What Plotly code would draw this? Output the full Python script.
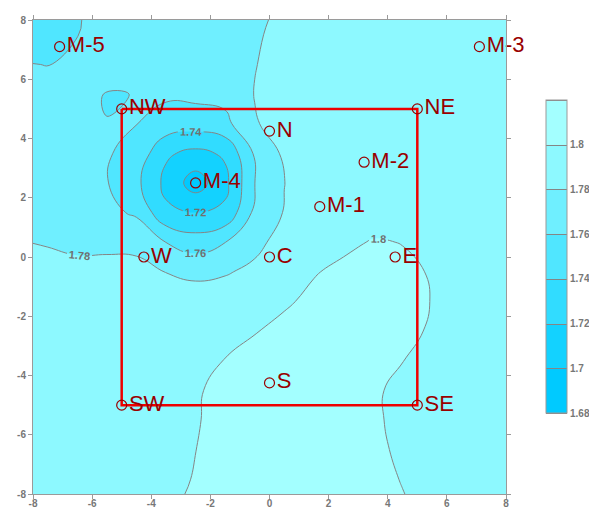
import plotly.graph_objects as go

# Grid node positions (same for x and y), in map units
grid_x = [-8, -7.5, -6.5, -5.5, -4.5, -3.5, -2.5, -1.5, -0.5, 0.5, 1.5, 2.5, 3.5, 4.5, 5.5, 6.5, 7.5, 8]
grid_y = [-8, -7.5, -6.5, -5.5, -4.5, -3.5, -2.5, -1.5, -0.5, 0.5, 1.5, 2.5, 3.5, 4.5, 5.5, 6.5, 7.5, 8]

# Surface values, one row per grid_y node, listed from the top row (y = 8) down
rows_top_down = [
    [1.752, 1.754, 1.7593, 1.764, 1.767, 1.769, 1.771, 1.774, 1.778, 1.7823, 1.786, 1.788, 1.789, 1.790, 1.790, 1.790, 1.790, 1.790],
    [1.7535, 1.7552, 1.7598, 1.7645, 1.767, 1.769, 1.7705, 1.7735, 1.7785, 1.7835, 1.786, 1.788, 1.789, 1.790, 1.790, 1.790, 1.790, 1.790],
    [1.7602, 1.7598, 1.762, 1.7645, 1.766, 1.7665, 1.7675, 1.7705, 1.7795, 1.785, 1.787, 1.788, 1.789, 1.790, 1.790, 1.790, 1.790, 1.790],
    [1.763, 1.7627, 1.7622, 1.7597, 1.7601, 1.763, 1.765, 1.7665, 1.7805, 1.785, 1.787, 1.788, 1.789, 1.790, 1.790, 1.790, 1.790, 1.790],
    [1.764, 1.7637, 1.763, 1.7601, 1.7603, 1.752, 1.7494, 1.7545, 1.7788, 1.786, 1.787, 1.788, 1.789, 1.790, 1.790, 1.790, 1.790, 1.790],
    [1.7655, 1.765, 1.7635, 1.7615, 1.754, 1.7228, 1.7148, 1.7228, 1.7625, 1.7835, 1.7865, 1.788, 1.789, 1.790, 1.790, 1.790, 1.790, 1.790],
    [1.767, 1.7665, 1.765, 1.7609, 1.7446, 1.7148, 1.690, 1.7148, 1.7595, 1.7797, 1.787, 1.788, 1.789, 1.790, 1.790, 1.790, 1.790, 1.790],
    [1.769, 1.7685, 1.767, 1.764, 1.7577, 1.724, 1.720, 1.724, 1.7645, 1.781, 1.787, 1.7885, 1.789, 1.7895, 1.790, 1.790, 1.790, 1.790],
    [1.7799, 1.7795, 1.778, 1.7775, 1.772, 1.7598, 1.7493, 1.7597, 1.7775, 1.7835, 1.7875, 1.795, 1.8015, 1.7995, 1.795, 1.792, 1.791, 1.791],
    [1.7825, 1.7825, 1.7825, 1.7835, 1.789, 1.7797, 1.7775, 1.7792, 1.782, 1.789, 1.7985, 1.805, 1.8055, 1.8035, 1.7988, 1.794, 1.792, 1.792],
    [1.785, 1.785, 1.786, 1.787, 1.789, 1.786, 1.7855, 1.785, 1.7875, 1.797, 1.805, 1.808, 1.808, 1.806, 1.7995, 1.795, 1.793, 1.793],
    [1.787, 1.787, 1.787, 1.7875, 1.789, 1.788, 1.789, 1.794, 1.799, 1.806, 1.809, 1.810, 1.809, 1.8035, 1.7985, 1.795, 1.793, 1.793],
    [1.789, 1.789, 1.789, 1.789, 1.7895, 1.791, 1.795, 1.8005, 1.806, 1.809, 1.810, 1.810, 1.808, 1.8002, 1.7965, 1.795, 1.794, 1.794],
    [1.7905, 1.7905, 1.7905, 1.791, 1.792, 1.7945, 1.7985, 1.804, 1.807, 1.8085, 1.809, 1.808, 1.8018, 1.797, 1.795, 1.7945, 1.794, 1.794],
    [1.791, 1.791, 1.791, 1.7915, 1.7925, 1.795, 1.7992, 1.8035, 1.806, 1.807, 1.807, 1.806, 1.8015, 1.7975, 1.7955, 1.795, 1.7945, 1.7945],
    [1.7915, 1.7915, 1.7915, 1.792, 1.793, 1.7955, 1.7999, 1.8035, 1.805, 1.806, 1.806, 1.805, 1.8025, 1.798, 1.7955, 1.795, 1.795, 1.795],
    [1.792, 1.792, 1.792, 1.7925, 1.7935, 1.796, 1.8008, 1.8035, 1.805, 1.8055, 1.8055, 1.805, 1.8035, 1.7995, 1.7965, 1.7955, 1.7955, 1.7955],
    [1.792, 1.792, 1.792, 1.7925, 1.7935, 1.7965, 1.802, 1.8035, 1.805, 1.8055, 1.8055, 1.805, 1.8035, 1.8003, 1.7965, 1.7955, 1.7955, 1.7955],
]

# Contour levels and colour bar labels
level_start, level_end, level_step = 1.68, 1.82, 0.02
bar_tickvals = [1.68, 1.70, 1.72, 1.74, 1.76, 1.78, 1.80]
bar_ticktext = ["1.68", "1.7", "1.72", "1.74", "1.76", "1.78", "1.8"]

# Band colours, darkest (lowest) to lightest (highest)
band_colors = ["#00C8FF", "#00CCFF", "#1BD5FF", "#35DDFF", "#50E6FF",
               "#6BEEFF", "#85F7FF", "#A0FFFF", "#A8FFFF"]

# Stations
station_names = ["M-1", "M-2", "M-3", "M-4", "M-5", "N", "S", "E", "W", "C", "NE", "NW", "SE", "SW"]
station_x = [1.7, 3.2, 7.1, -2.5, -7.1, 0, 0, 4.25, -4.25, 0, 5, -5, 5, -5]
station_y = [1.7, 3.2, 7.1, 2.5, 7.1, 4.25, -4.25, 0, 0, 0, 5, 5, -5, -5]

# Outline joining the corner stations
frame_corners = ["NW", "NE", "SE", "SW", "NW"]

axis_ticks = [-8, -6, -4, -2, 0, 2, 4, 6, 8]

z = rows_top_down[::-1]
n = len(band_colors) - 1
colorscale = [[i / n, c] for i, c in enumerate(band_colors)]

label_font = "Liberation Sans Narrow, Arial Narrow, Liberation Sans, sans-serif"
tick_font = dict(family="Liberation Sans, Arial, sans-serif", size=10, color="#777777", weight="bold")

fig = go.Figure()

fig.add_trace(go.Contour(
    x=grid_x, y=grid_y, z=z,
    zmin=level_start, zmax=level_end,
    autocontour=False,
    contours=dict(start=level_start, end=level_end, size=level_step,
                  coloring="fill", showlabels=True,
                  labelfont=dict(family="Liberation Sans, Arial, sans-serif", size=11,
                                 color="#707070", weight="bold")),
    line=dict(color="#858585", width=1, smoothing=1.3),
    colorscale=colorscale,
    hoverinfo="skip",
    colorbar=dict(
        x=(546 - 33) / 473, xanchor="left", xpad=0,
        y=0.501, yanchor="middle", ypad=0,
        len=313, lenmode="pixels",
        thickness=21, thicknessmode="pixels",
        outlinecolor="#999999", outlinewidth=1,
        tickvals=bar_tickvals, ticktext=bar_ticktext,
        ticks="", tickfont=tick_font,
    ),
))

idx = {name: i for i, name in enumerate(station_names)}
fig.add_trace(go.Scatter(
    x=[station_x[idx[c]] for c in frame_corners],
    y=[station_y[idx[c]] for c in frame_corners],
    mode="lines",
    line=dict(color="#EE0000", width=2.5),
    hoverinfo="skip", showlegend=False,
))

fig.add_trace(go.Scatter(
    x=station_x, y=station_y, text=station_names,
    mode="markers+text", textposition="middle right",
    marker=dict(symbol="circle-open", size=10, color="#990000", line=dict(width=1.2, color="#990000")),
    textfont=dict(family=label_font, size=22, color="#990000"),
    cliponaxis=False,
    hoverinfo="skip", showlegend=False,
))

axis_common = dict(
    range=[-8, 8], showgrid=False, zeroline=False, automargin=False,
    showline=True, linecolor="#9A9A9A", linewidth=1, mirror="ticks",
    ticks="outside", ticklen=4, tickcolor="#9A9A9A",
    tickvals=axis_ticks, ticktext=[str(v) for v in axis_ticks],
    tickfont=tick_font,
)

fig.update_layout(
    width=589, height=510,
    margin=dict(l=33, r=83, t=20, b=16, autoexpand=False),
    paper_bgcolor="white", plot_bgcolor="white",
    showlegend=False,
    xaxis=dict(**axis_common, ticklabelstandoff=-4),
    yaxis=dict(**axis_common),
)

fig.write_html("out.html")
